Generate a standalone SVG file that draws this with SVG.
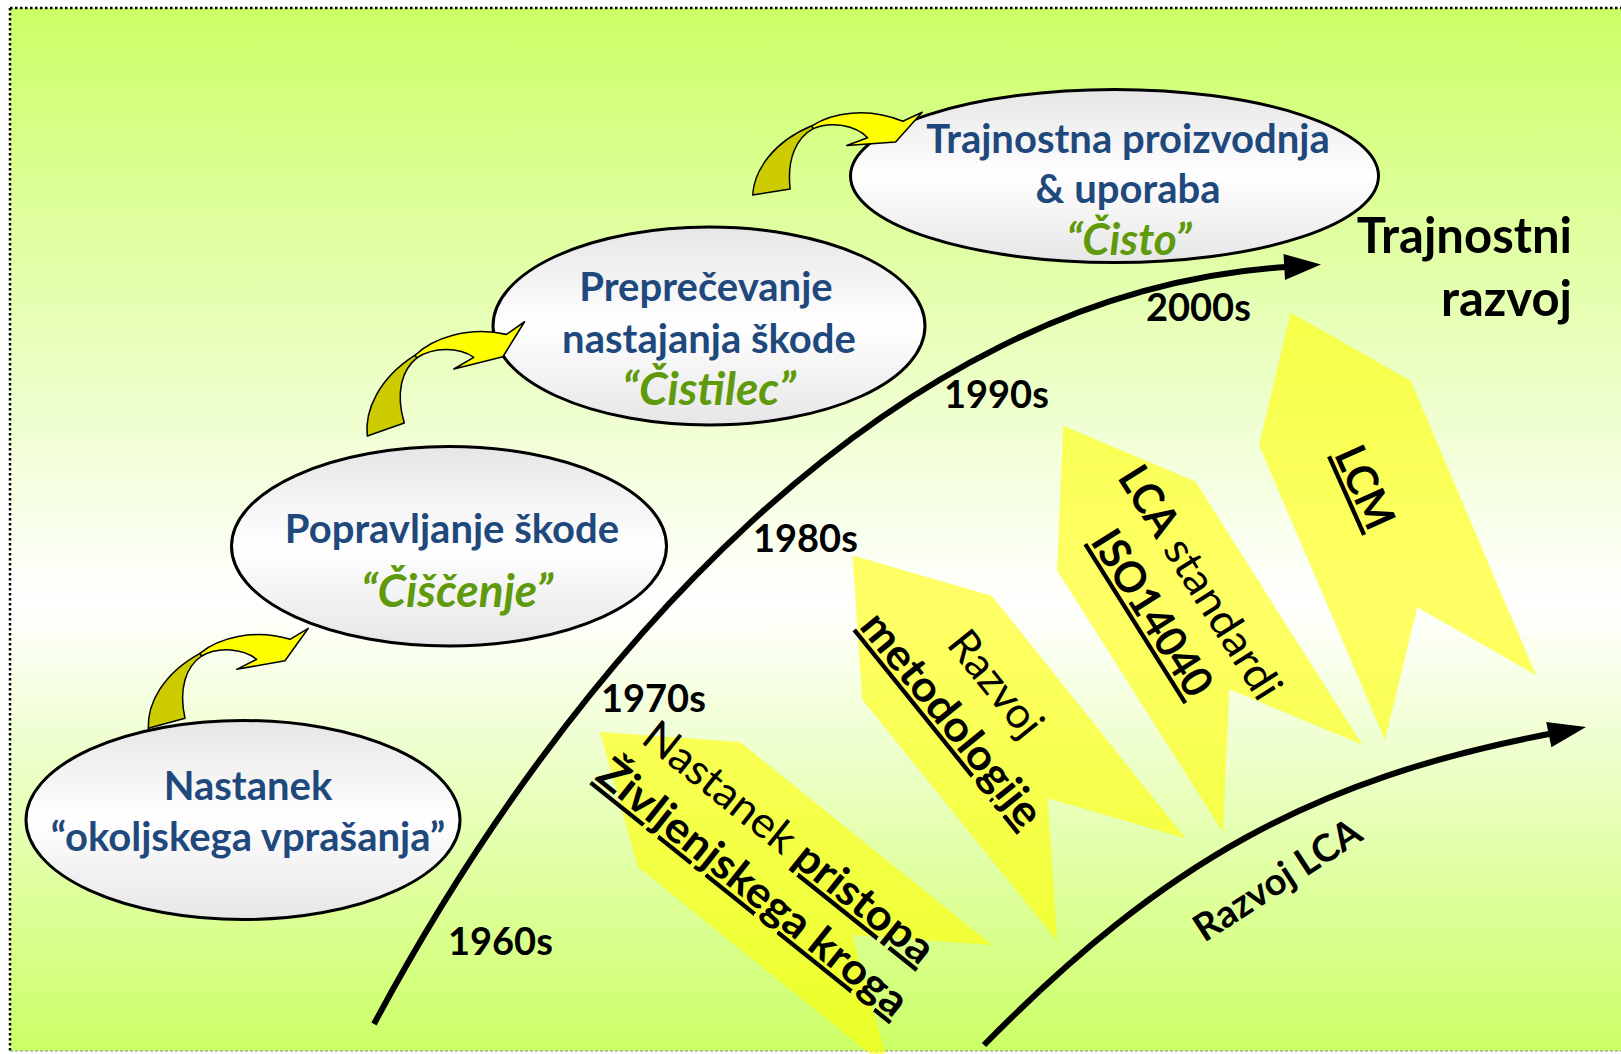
<svg xmlns="http://www.w3.org/2000/svg" xmlns:xlink="http://www.w3.org/1999/xlink" width="1621" height="1054" viewBox="0 0 1621 1054">
<defs>
<linearGradient id="bg" x1="0" y1="0" x2="0" y2="1">
<stop offset="0" stop-color="#CCFF66"/>
<stop offset="0.57" stop-color="#FFFFFF"/>
<stop offset="1" stop-color="#CCFF66"/>
</linearGradient>
<linearGradient id="eg" x1="0" y1="0" x2="0" y2="1">
<stop offset="0" stop-color="#E6E6E6"/>
<stop offset="0.5" stop-color="#FFFFFF"/>
<stop offset="1" stop-color="#E6E6E6"/>
</linearGradient>
<g id="curv">
<path class="cd" d="M0,0 C-1,-25 15,-55 51.7,-75 L53.4,-72.3 C38,-62 30,-40 36.7,-10 Z"/>
<path class="cb" d="M51.7,-75 C70,-90 105,-100 141.7,-89 L160,-100 L136.7,-67.6 L88.4,-59 L108.4,-69 C95,-80 70,-82 53.4,-72.3 Z"/>
</g>
<style>
.t{font-family:Lato,"Noto Sans","Liberation Sans",sans-serif}
.eb{font-weight:700;font-size:40px;fill:#1F497D;text-anchor:middle}
.eg{font-weight:700;font-style:italic;font-size:46px;fill:#5F9A0C;text-anchor:middle}
.yr{font-weight:700;font-size:38px;fill:#000}
.big{font-size:43px;fill:#000}
.b{font-weight:700}
.u{text-decoration:underline}
.ell{fill:url(#eg);stroke:#000;stroke-width:3}
.ya{fill:#FFFF00;fill-opacity:0.6}
.cd{fill:#CCCC00;stroke:#000;stroke-width:1.5;stroke-linejoin:round}
.cb{fill:#FFFF00;stroke:#000;stroke-width:1.5;stroke-linejoin:round}
.ln{fill:none;stroke:#000;stroke-width:6}
.tr{font-weight:700;font-size:49px;fill:#000;text-anchor:end}
</style>
</defs>
<rect x="0" y="0" width="1621" height="1054" fill="#FFFFFF"/>
<rect x="10" y="8" width="1611" height="1043" fill="url(#bg)"/>
<line x1="10" y1="8" x2="1621" y2="8" stroke="#000" stroke-width="2.5" stroke-dasharray="2.5,2.5"/>
<line x1="10" y1="8" x2="10" y2="1051" stroke="#000" stroke-width="2.5" stroke-dasharray="2.5,2.5"/>
<line x1="10" y1="1051" x2="1621" y2="1051" stroke="#888" stroke-width="1" stroke-dasharray="3,2"/>

<g id="arrow-1970s">
<polygon class="ya" points="600,732 740,742 992,945 852,935 890,1070 638,867"/>
<g class="t" transform="translate(743.75,898.6) rotate(38.66)">
<text class="big b u" x="0" y="0" text-anchor="middle" textLength="384" lengthAdjust="spacingAndGlyphs">Življenjskega kroga</text>
<text class="big" x="-179.5" y="-57.5" textLength="182.8" lengthAdjust="spacingAndGlyphs">Nastanek</text>
<text class="big b u" x="14.1" y="-57.5" textLength="165.7" lengthAdjust="spacingAndGlyphs">pristopa</text>
</g>
</g>
<g id="arrow-1980s">
<polygon class="ya" points="852.5,555.4 991.8,595.7 1185.7,838.6 1047.9,798.2 1057.1,941 862.1,699.3"/>
<g class="t" transform="translate(940.4,728.4) rotate(51.1)">
<text class="big b u" x="0" y="0" text-anchor="middle" textLength="261.5" lengthAdjust="spacingAndGlyphs">metodologije</text>
<text class="big" x="0" y="-56.5" text-anchor="middle" textLength="124" lengthAdjust="spacingAndGlyphs">Razvoj</text>
</g>
</g>
<g id="arrow-1990s">
<polygon class="ya" points="1063.2,425.7 1195.4,481.4 1362.1,744.6 1229.3,689.3 1222.9,832.1 1057.1,570.4"/>
<g class="t" transform="translate(1139.7,620.9) rotate(57.8)">
<text class="big b u" x="0" y="0" text-anchor="middle" textLength="187.8" lengthAdjust="spacingAndGlyphs">ISO14040</text>
<text class="big b" x="-133.5" y="-57" textLength="73.9" lengthAdjust="spacingAndGlyphs">LCA</text>
<text class="big" x="-48.9" y="-57" textLength="182.3" lengthAdjust="spacingAndGlyphs">standardi</text>
</g>
</g>
<g id="arrow-2000s">
<polygon class="ya" points="1290.7,312.7 1410.7,380.7 1536,675 1417.3,607.3 1385,740 1259,445"/>
<g class="t" transform="translate(1351.3,493.5) rotate(65.9)">
<text class="big b u" x="0" y="0" text-anchor="middle" textLength="85.8" lengthAdjust="spacingAndGlyphs">LCM</text>
</g>
</g>

<g id="node-nastanek">
<ellipse class="ell" cx="243" cy="820" rx="217" ry="99.5"/>
<text class="t eb" x="248" y="800">Nastanek</text>
<text class="t eb" x="248" y="851">“okoljskega vprašanja”</text>
</g>
<g id="node-popravljanje">
<ellipse class="ell" cx="449" cy="546.3" rx="217.5" ry="99.7"/>
<text class="t eb" x="452" y="543">Popravljanje škode</text>
<text class="t eg" x="457" y="607">“Čiščenje”</text>
</g>
<g id="node-preprecevanje">
<ellipse class="ell" cx="709" cy="326" rx="216" ry="99"/>
<text class="t eb" x="706" y="301">Preprečevanje</text>
<text class="t eb" x="709" y="352.5">nastajanja škode</text>
<text class="t eg" x="709" y="405">“Čistilec”</text>
</g>
<g id="node-trajnostna">
<ellipse class="ell" cx="1114.5" cy="176" rx="264" ry="86.5"/>
<text class="t eb" x="1128" y="153">Trajnostna proizvodnja</text>
<text class="t eb" x="1128" y="203">&amp; uporaba</text>
<text class="t eg" x="1129" y="255" style="font-size:44px">“Čisto”</text>
</g>

<g id="connectors">
<path class="ln" d="M374,1024 C562,672 885,292 1286,267"/>
<polygon points="1283.5,254 1321,264.5 1285,280" fill="#000"/>
<path class="ln" d="M984,1045 C1166,860 1315,779 1549,734"/>
<polygon points="1546.2,721.9 1586,727 1551.4,747.3" fill="#000"/>
<use xlink:href="#curv" href="#curv" transform="translate(148.3,728.3)"/>
<use xlink:href="#curv" href="#curv" transform="translate(367.3,436) rotate(-4) scale(1.03)"/>
<use xlink:href="#curv" href="#curv" transform="translate(752.6,195) rotate(6)"/>
</g>

<g id="labels" class="t">
<text class="yr" x="448" y="955">1960s</text>
<text class="yr" x="601" y="712">1970s</text>
<text class="yr" x="753" y="552">1980s</text>
<text class="yr" x="944" y="408">1990s</text>
<text class="yr" x="1146" y="321">2000s</text>
<text class="tr" x="1572" y="253">Trajnostni</text>
<text class="tr" x="1572" y="316">razvoj</text>
<text x="0" y="0" text-anchor="middle" transform="translate(1284.5,891) rotate(-33)" style="font-weight:700;font-size:38px;fill:#000">Razvoj LCA</text>
</g>
</svg>
